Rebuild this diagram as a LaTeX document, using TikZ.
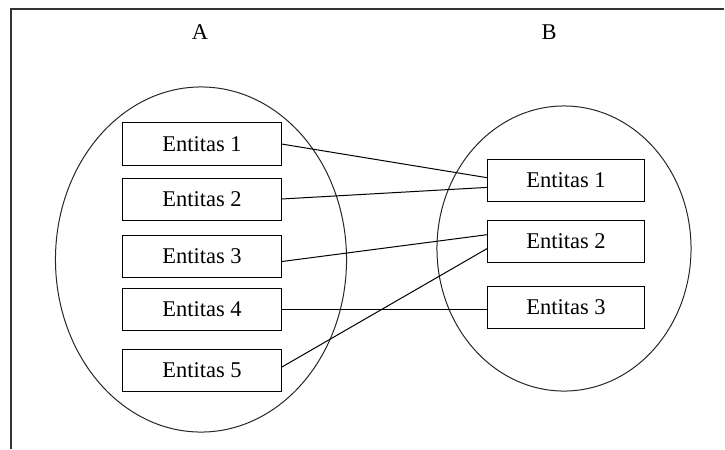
\documentclass[tikz,border=0pt]{standalone}
\usepackage{fontspec}
\setmainfont{Liberation Serif}
\begin{document}
\begin{tikzpicture}[x=0.025cm,y=-0.025cm,
                    entity/.style={draw,line width=0.025cm,inner sep=0pt,minimum width=3.95cm,minimum height=1.05cm},
                    link/.style={line width=0.025cm},
                    setline/.style={line width=0.025cm,black!85}]
                        \useasboundingbox (0,0) rectangle (725,449);
                        {\fontsize{16}{19}\selectfont

                        % Drawing frame
                        \coordinate (corner) at (11,9);
                        \draw [line width=0.035cm,black!80] (11,449) -- (corner) -- (724,9);%

                        % Marking sets A and B
                        \node (labA) at (200,32) {A};%
                        \node (labB) at (549,32) {B};%
                        \draw [setline] (201,259.5) ellipse [x radius=3.6375cm, y radius=4.3125cm];%
                        \draw [setline] (564,248.5) ellipse [x radius=3.175cm, y radius=3.5625cm];%

                        % Marking entities of A
                        \node [entity] (a1) at (202,144) {Entitas 1};%
                        \node [entity] (a2) at (202,199) {Entitas 2};%
                        \node [entity] (a3) at (202,256) {Entitas 3};%
                        \node [entity] (a4) at (202,309) {Entitas 4};%
                        \node [entity] (a5) at (202,370) {Entitas 5};%

                        % Marking entities of B
                        \node [entity,minimum width=3.9cm] (b1) at (566,180.5) {Entitas 1};%
                        \node [entity,minimum width=3.9cm] (b2) at (566,241.5) {Entitas 2};%
                        \node [entity,minimum width=3.9cm] (b3) at (566,307) {Entitas 3};%

                        % Drawing lines A -> B
                        \draw [link] (a1.east) -- (b1.178);%
                        \draw [link] (a2.east) -- (b1.185);%
                        \draw [link] (a3.-4) -- (b2.175);%
                        \draw [link] (a4.east) -- (a4.east -| b3.west);%
                        \draw [link] (a5.2) -- (b2.185);%
                        }
                    \end{tikzpicture}
\end{document}
